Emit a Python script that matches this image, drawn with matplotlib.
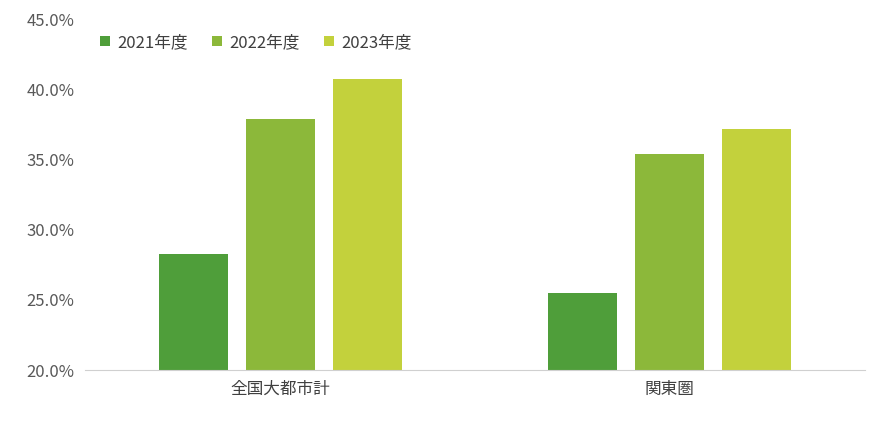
import numpy as np
import matplotlib.pyplot as plt

plt.rcParams['font.family'] = ['Noto Sans CJK JP', 'DejaVu Sans']

categories = ['全国大都市計', '関東圏']
series = ['2021年度', '2022年度', '2023年度']
values = [
    [28.3, 25.5],
    [37.9, 35.4],
    [40.7, 37.2],
]
colors = ['#4f9e3a', '#8cb83a', '#c3d13c']

fig = plt.figure(figsize=(8.7, 4.24), dpi=100)
ax = fig.add_axes([0.098, 0.127, 0.896, 0.828])

x = np.arange(len(categories))
w = 0.177
step = 0.223
for i, (name, vals) in enumerate(zip(series, values)):
    ax.bar(x + (i - 1) * step, vals, w, color=colors[i], label=name, bottom=0)

ax.set_xlim(-0.5, 1.5)
ax.set_ylim(20, 45)
ax.set_yticks(np.arange(20, 46, 5))
ax.set_yticklabels([f'{v:.1f}%' for v in np.arange(20, 46, 5)], fontsize=12, color='#595959')
ax.set_xticks(x)
ax.set_xticklabels(categories, fontsize=12, color='#404040')
ax.tick_params(length=0, pad=8)
for s in ['top', 'right', 'left']:
    ax.spines[s].set_visible(False)
ax.spines['bottom'].set_color('#d0d0d0')

leg = ax.legend(loc='upper left', bbox_to_anchor=(0.0, 1.0), ncol=3, frameon=False,
                fontsize=12, handlelength=0.6, handleheight=0.6, columnspacing=1.5,
                handletextpad=0.4)
for t in leg.get_texts():
    t.set_color('#404040')

fig.savefig('out.png', dpi=100)
